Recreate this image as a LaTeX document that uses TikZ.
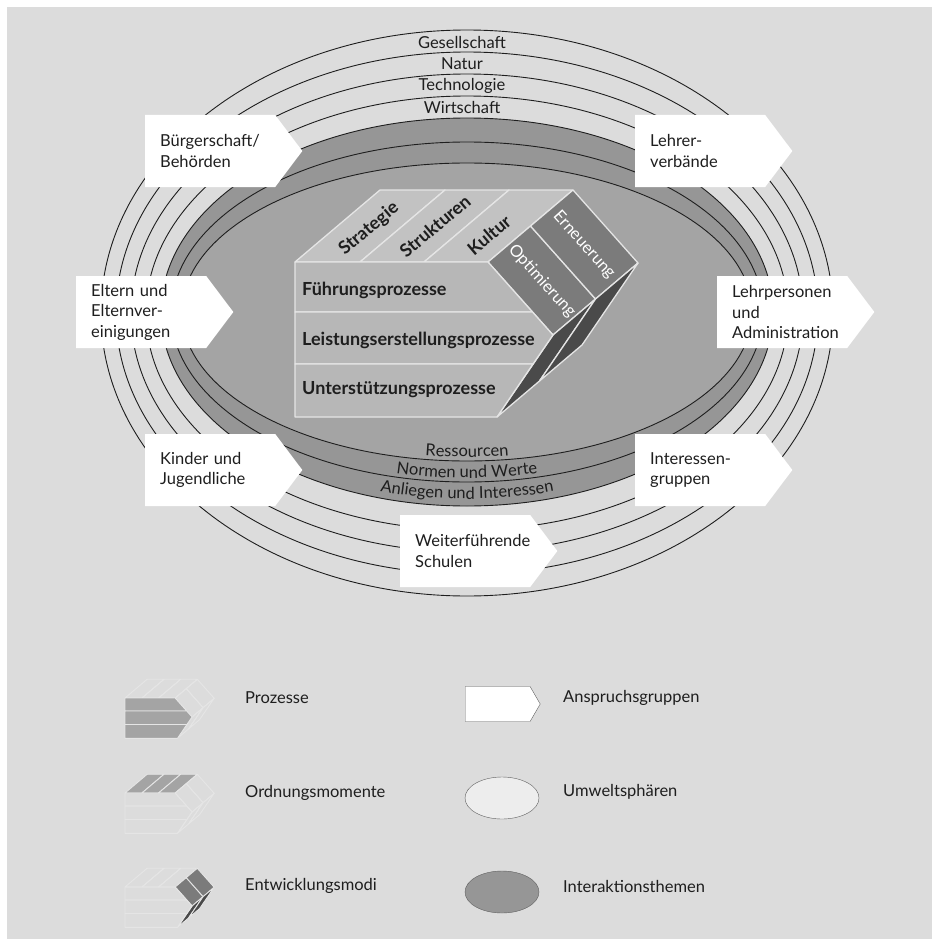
\documentclass[tikz,border=0pt]{standalone}
\usepackage{fontspec}
\setmainfont{Lato}
\usepackage{tikz}
\usetikzlibrary{shapes.geometric, shapes.symbols, decorations.text}

\definecolor{bg}{HTML}{DCDCDC}
\definecolor{ring}{HTML}{969696}
\definecolor{core}{HTML}{A4A4A4}
\definecolor{front}{HTML}{B7B7B7}
\definecolor{roof}{HTML}{C2C2C2}
\definecolor{modus}{HTML}{7B7B7B}
\definecolor{deep}{HTML}{4A4A4A}
\definecolor{ink}{HTML}{1E1E1E}

\newcommand{\lblfont}{\color{ink}\fontsize{16.5}{18}\selectfont}

\tikzstyle{sphere} = [draw=ink, line width=0.9pt]
\tikzstyle{facet} = [draw=white!90!black]
\tikzstyle{grp} = [signal, signal to=east, signal pointer angle=106, fill=white, minimum height=72pt, text width=100pt, inner xsep=15pt, inner ysep=2pt, align=left, text=ink, font=\fontsize{16.5}{20.5}\selectfont]
\tikzstyle{lbl} = [text=ink, inner sep=0pt, font=\lblfont]
\tikzstyle{proc} = [anchor=west, text=ink, inner sep=0pt, font=\bfseries\fontsize{18}{20}\selectfont]
\tikzstyle{ord} = [text=ink, inner sep=0pt, rotate=40, font=\bfseries\fontsize{18}{20}\selectfont]
\tikzstyle{mode} = [text=white, inner sep=0pt, rotate=-48, font=\fontsize{16.5}{18}\selectfont]
\tikzstyle{leg} = [anchor=west, text=ink, inner sep=0pt, font=\fontsize{16.5}{18}\selectfont]

% prism: #1 scope options, #2 front, #3 top, #4 upper side, #5 lower side
\newcommand{\prisma}[5]{%
\begin{scope}[#1, line join=round]
\filldraw[facet, fill=#3] (0,0) -- (65,0) -- (150,-72) -- (85,-72) -- cycle;
\filldraw[facet, fill=#3] (65,0) -- (129,0) -- (214,-72) -- (150,-72) -- cycle;
\filldraw[facet, fill=#3] (129,0) -- (193,0) -- (278,-72) -- (214,-72) -- cycle;
\filldraw[facet, fill=#4] (193,0) -- (235.5,-36) -- (300.5,37) -- (258,73) -- cycle;
\filldraw[facet, fill=#4] (235.5,-36) -- (278,-72) -- (343,1) -- (300.5,37) -- cycle;
\filldraw[facet, fill=#5] (258,73) -- (300.5,37) -- (244.5,119) -- (202,155) -- cycle;
\filldraw[facet, fill=#5] (300.5,37) -- (343,1) -- (287,83) -- (244.5,119) -- cycle;
\filldraw[facet, fill=#2] (0,0) -- (193,0) -- (237.5,50) -- (0,50) -- cycle;
\filldraw[facet, fill=#2] (0,50) -- (237.5,50) -- (258,73) -- (238,102) -- (0,102) -- cycle;
\filldraw[facet, fill=#2] (0,102) -- (238,102) -- (202,155) -- (0,155) -- cycle;
\end{scope}}

\begin{document}
\begin{tikzpicture}[x=1pt, y=-1pt]
\useasboundingbox (0,0) rectangle (932,939);
\fill[white] (0,0) rectangle (932,939);
\fill[bg] (7,7) rectangle (932,939);

% Umweltsphaeren
\foreach \i in {0,...,3}
  \draw[sphere] (467,313) ellipse [x radius={366-15*\i}, y radius={283-22*\i}];

% Interaktionsthemen
\filldraw[sphere, fill=ring] (467,312) ellipse [x radius=306, y radius=194];
\draw[sphere] (467,312) ellipse [x radius=296, y radius=170];
\filldraw[sphere, fill=core] (467,312) ellipse [x radius=285, y radius=149];

\node (ges) [lbl] at (462,42) {Gesellschaft};
\node (nat) [lbl] at (462,64) {Natur};
\node (tec) [lbl] at (462,86) {Technologie};
\node (wir) [lbl] at (462,107) {Wirtschaft};

\path[decorate, decoration={text along path, text align=center, text={|\lblfont|Ressourcen}}]
  (467,312) ++(135:281 and 145) arc [start angle=135, end angle=45, x radius=281, y radius=145];
\path[decorate, decoration={text along path, text align=center, text={|\lblfont|Normen und Werte}}]
  (467,312) ++(135:292 and 166) arc [start angle=135, end angle=45, x radius=292, y radius=166];
\path[decorate, decoration={text along path, text align=center, text={|\lblfont|Anliegen und Interessen}}]
  (467,312) ++(135:302 and 187) arc [start angle=135, end angle=45, x radius=302, y radius=187];

% Schulmodell
\prisma{shift={(295,262)}, line width=1.3pt}{front}{roof}{modus}{deep}

\node (fue) [proc] at (302,290) {Führungsprozesse};
\node (lei) [proc] at (302,340) {Leistungserstellungsprozesse};
\node (unt) [proc] at (302,390) {Unterstützungsprozesse};

\node (str) [ord] at (369,229) {Strategie};
\node (stk) [ord] at (435,226) {Strukturen};
\node (kul) [ord] at (489,235) {Kultur};

\node (opt) [mode] at (542,281) {Optimierung};
\node (ern) [mode] at (584,245) {Erneuerung};

% Anspruchsgruppen
\node (bue) [grp, anchor=west] at (145,151) {Bürgerschaft/\\Behörden};
\node (lev) [grp, anchor=west] at (635,151) {Lehrer-\\verbände};
\node (elt) [grp, anchor=west] at (76,312) {Eltern und\\Elternver-\\einigungen};
\node (lpa) [grp, anchor=west] at (717,312) {Lehrpersonen\\und\\Administration};
\node (kin) [grp, anchor=west] at (145,470) {Kinder und\\Jugendliche};
\node (igr) [grp, anchor=west] at (635,470) {Interessen-\\gruppen};
\node (wei) [grp, anchor=west] at (400,551) {Weiterführende\\Schulen};

% Legende
\prisma{shift={(125,698)}, scale=0.26, line width=0.9pt}{core}{none}{none}{none}
\prisma{shift={(125,793)}, scale=0.26, line width=0.9pt}{none}{core}{none}{none}
\prisma{shift={(125,887)}, scale=0.26, line width=0.9pt}{none}{none}{modus}{deep}

\node (lpro) [leg] at (245,698) {Prozesse};
\node (lord) [leg] at (245,793) {Ordnungsmomente};
\node (lent) [leg] at (245,886) {Entwicklungsmodi};

\node (ianp) [signal, signal to=east, signal pointer angle=120, draw=ink!70, fill=white, minimum width=75pt, minimum height=35pt, anchor=west] at (465,704) {};
\node (iumw) [ellipse, draw=ink!70, fill=bg!50!white, minimum width=74pt, minimum height=42pt] at (502,798) {};
\node (iint) [ellipse, draw=ink!70, fill=ring, minimum width=74pt, minimum height=42pt] at (502,892) {};

\node (lanp) [leg] at (563,698) {Anspruchsgruppen};
\node (lumw) [leg] at (563,792) {Umweltsphären};
\node (lint) [leg] at (563,886) {Interaktionsthemen};

\end{tikzpicture}
\end{document}
